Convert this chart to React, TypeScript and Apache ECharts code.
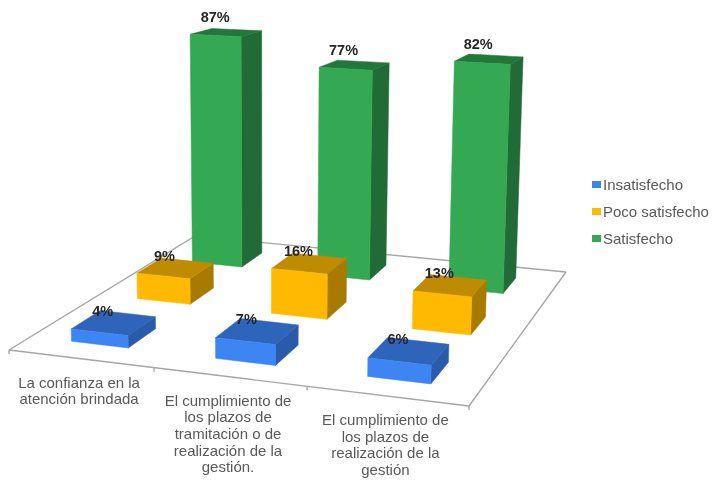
import React, { useEffect, useRef } from "react";
import * as echarts from "echarts";

const categories = [
  "La confianza en la\natención brindada",
  "El cumplimiento de\nlos plazos de\ntramitación o de\nrealización de la\ngestión.",
  "El cumplimiento de\nlos plazos de\nrealización de la\ngestión",
];
const axisCategories = ["c1", "c2", "c3"];
const insatisfecho = [4, 7, 6];
const pocoSatisfecho = [9, 16, 13];
const satisfecho = [87, 77, 82];

const FONT = '"Liberation Sans", Arial, sans-serif';
const FRONT_LEFT = [9, 350];
const FRONT_RIGHT = [469, 406];
const BACK_RIGHT = [566, 272];
const BACK_LEFT = [195, 236];
const VANISH_X = 267;
const VANISH_DIST = 7500;
const BAR_U = 0.4;
const BAR_V = 0.42;
const BACK_SHRINK = 0.965;
const RIGHT_GROW = 0.028;
const BASE_EXTRA = 2;

// Unit-square to floor-quad homography.
function makeHomography(p0: number[], p1: number[], p2: number[], p3: number[]) {
  const dx1 = p1[0] - p2[0], dx2 = p3[0] - p2[0], sx = p0[0] - p1[0] + p2[0] - p3[0];
  const dy1 = p1[1] - p2[1], dy2 = p3[1] - p2[1], sy = p0[1] - p1[1] + p2[1] - p3[1];
  const det = dx1 * dy2 - dx2 * dy1;
  const g = (sx * dy2 - dx2 * sy) / det;
  const h = (dx1 * sy - sx * dy1) / det;
  const a = p1[0] - p0[0] + g * p1[0], b = p3[0] - p0[0] + h * p3[0], c = p0[0];
  const d = p1[1] - p0[1] + g * p1[1], e = p3[1] - p0[1] + h * p3[1], f = p0[1];
  return (u: number, v: number) => {
    const w = g * u + h * v + 1;
    return [(a * u + b * v + c) / w, (d * u + e * v + f) / w];
  };
}
const floorMap = makeHomography(FRONT_LEFT, FRONT_RIGHT, BACK_RIGHT, BACK_LEFT);
const floor = (c: number, s: number) => floorMap(c / 3, s / 3);

function raise(p: number[], h: number) {
  return [p[0] + ((p[0] - VANISH_X) * h) / VANISH_DIST, p[1] - h];
}

type Palette = { front: string; top: string; side: string };

function barRenderer(row: number, shiftU: number, pal: Palette) {
  return (_params: any, api: any) => {
    const cat = api.value(0);
    const val = api.value(1);
    const base = api.size([0, val])[1] + BASE_EXTRA;
    const u0 = cat + (1 - BAR_U) / 2 + shiftU, u1 = u0 + BAR_U;
    const v0 = row + (1 - BAR_V) / 2, v1 = v0 + BAR_V;
    const heightAt = (u: number, back: boolean) =>
      base * (1 + RIGHT_GROW * (u - 0.5)) * (back ? BACK_SHRINK : 1);
    const fl = floor(u0, v0), fr = floor(u1, v0), br = floor(u1, v1), bl = floor(u0, v1);
    const tfl = raise(fl, heightAt(u0, false));
    const tfr = raise(fr, heightAt(u1, false));
    const tbr = raise(br, heightAt(u1, true));
    const tbl = raise(bl, heightAt(u0, true));
    const poly = (points: number[][], fill: string) => ({
      type: "polygon",
      shape: { points },
      style: { fill, stroke: fill, lineWidth: 0.5 },
    });
    const cx = (tfl[0] + tfr[0] + tbr[0] + tbl[0]) / 4;
    const cy = (tfl[1] + tfr[1] + tbr[1] + tbl[1]) / 4;
    return {
      type: "group",
      children: [
        poly([fr, br, tbr, tfr], pal.side),
        poly([tfl, tfr, tbr, tbl], pal.top),
        poly([fl, fr, tfr, tfl], pal.front),
        {
          type: "text",
          x: cx - 11,
          y: cy - 12 - base * 0.015,
          style: {
            text: val + "%",
            fill: "#262626",
            font: `bold 14.5px ${FONT}`,
            align: "center",
            verticalAlign: "middle",
          },
        },
      ],
    };
  };
}

function floorRenderer() {
  const line = (a: number[], b: number[]) => ({
    type: "line",
    shape: { x1: a[0], y1: a[1], x2: b[0], y2: b[1] },
    style: { stroke: "#a6a6a6", lineWidth: 1.4 },
  });
  const children: any[] = [
    line(FRONT_LEFT, FRONT_RIGHT),
    line(FRONT_RIGHT, BACK_RIGHT),
    line(BACK_RIGHT, BACK_LEFT),
    line(BACK_LEFT, FRONT_LEFT),
  ];
  for (let c = 0; c <= 3; c++) {
    const p = floor(c, 0);
    children.push(line(p, [p[0], p[1] + 4]));
  }
  categories.forEach((label, c) => {
    const p = floor(c + 0.5, 0);
    children.push({
      type: "text",
      x: p[0] - 1.5,
      y: p[1] + 15,
      style: {
        text: label,
        fill: "#595959",
        font: `15px ${FONT}`,
        lineHeight: 16.7,
        align: "center",
        verticalAlign: "top",
      },
    });
  });
  return { type: "group", children };
}

const toPairs = (vals: number[]) => vals.map((v, i) => [i, v]);

export default function App() {
  const ref = useRef<HTMLDivElement>(null);
  useEffect(() => {
    const chart = echarts.init(ref.current!, undefined, { renderer: "svg" });
    chart.setOption({
      animation: false,
      backgroundColor: "#ffffff",
      grid: { left: 0, top: 0, width: 712, height: 261 },
      xAxis: { type: "category", data: axisCategories, show: false },
      yAxis: { type: "value", min: 0, max: 100, show: false },
      legend: {
        orient: "vertical",
        left: 592,
        top: 177,
        padding: 0,
        itemWidth: 9,
        itemHeight: 7,
        itemGap: 12,
        icon: "rect",
        data: ["Insatisfecho", "Poco satisfecho", "Satisfecho"],
        textStyle: { color: "#595959", fontSize: 15, fontFamily: FONT, padding: [0, 0, 0, -3] },
      },
      series: [
        {
          type: "custom",
          name: "floor",
          silent: true,
          clip: false,
          z: 1,
          data: [[0, 0]],
          renderItem: floorRenderer,
        },
        {
          type: "custom",
          name: "Satisfecho",
          clip: false,
          z: 2,
          itemStyle: { color: "#34A853" },
          data: toPairs(satisfecho),
          renderItem: barRenderer(2, -0.02, { front: "#34A853", top: "#23773A", side: "#216C36" }),
        },
        {
          type: "custom",
          name: "Poco satisfecho",
          clip: false,
          z: 3,
          itemStyle: { color: "#FFB900" },
          data: toPairs(pocoSatisfecho),
          renderItem: barRenderer(1, -0.01, { front: "#FFB900", top: "#BF8B00", side: "#A87B00" }),
        },
        {
          type: "custom",
          name: "Insatisfecho",
          clip: false,
          z: 4,
          itemStyle: { color: "#3D85F2" },
          data: toPairs(insatisfecho),
          renderItem: barRenderer(0, -0.01, { front: "#3D85F2", top: "#2E64BA", side: "#2A5BAA" }),
        },
      ],
    });
    return () => chart.dispose();
  }, []);
  return (
    <div
      ref={ref}
      style={{ position: "fixed", left: 0, top: 0, width: 712, height: 481, filter: "blur(0.45px)" }}
    />
  );
}
